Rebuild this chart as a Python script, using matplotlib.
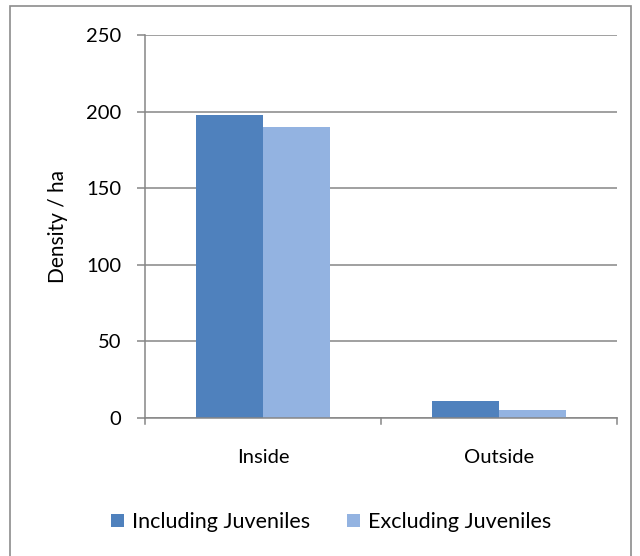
import matplotlib
matplotlib.use('Agg')
import matplotlib.pyplot as plt
import numpy as np
from matplotlib.patches import Rectangle

# Data
categories = ['Inside', 'Outside']
series_names = ['Including Juveniles', 'Excluding Juveniles']
including = [197.5, 11]
excluding = [190, 5]
y_ticks = [0, 50, 100, 150, 200, 250]

plt.rcParams['font.family'] = ['Lato', 'DejaVu Sans']
fs = 14.5

fig = plt.figure(figsize=(6.4, 5.56), dpi=100)
ax = fig.add_axes([0.2266, 0.248, 0.7375, 0.689])

grid_col = '#868686'
x = np.arange(len(categories))
w = 0.284

ax.bar(x - w / 2, including, width=w, color='#4F81BD', label=series_names[0], zorder=3)
ax.bar(x + w / 2, excluding, width=w, color='#93B3E1', label=series_names[1], zorder=3)

ax.set_xlim(-0.5, len(categories) - 0.5)
ax.set_ylim(0, 250)
ax.set_yticks(y_ticks)
ax.yaxis.grid(True, color=grid_col, linewidth=1.1, zorder=0)
ax.set_axisbelow(True)

# category labels centred, ticks on the boundaries
ax.set_xticks(x)
ax.set_xticklabels(categories)
ax.tick_params(axis='x', length=0, pad=22, labelsize=fs)
for b in np.arange(-0.5, len(categories), 1.0):
    ax.plot([b, b], [0, -4], color=grid_col, linewidth=1.1, clip_on=False, zorder=4)

ax.tick_params(axis='y', length=6, width=1.1, color=grid_col, pad=11, labelsize=fs)

for s in ['top', 'right']:
    ax.spines[s].set_visible(False)
for s in ['left', 'bottom']:
    ax.spines[s].set_color(grid_col)
    ax.spines[s].set_linewidth(1.1)
    ax.spines[s].set_zorder(5)

ax.set_ylabel('Density / ha', fontsize=15, labelpad=13)

fig.legend(loc='lower center', bbox_to_anchor=(0.518, 0.008), ncol=2, frameon=False,
           fontsize=15.5, handlelength=0.6, handleheight=0.6, handletextpad=0.37,
           columnspacing=1.72)

# outer chart border
fig.patches.append(Rectangle((10 / 640, -0.1), 621 / 640, 1.1 - 6 / 556,
                             transform=fig.transFigure, fill=False,
                             edgecolor='#8C8C8C', linewidth=1.2))

fig.savefig('out.png', dpi=100)
